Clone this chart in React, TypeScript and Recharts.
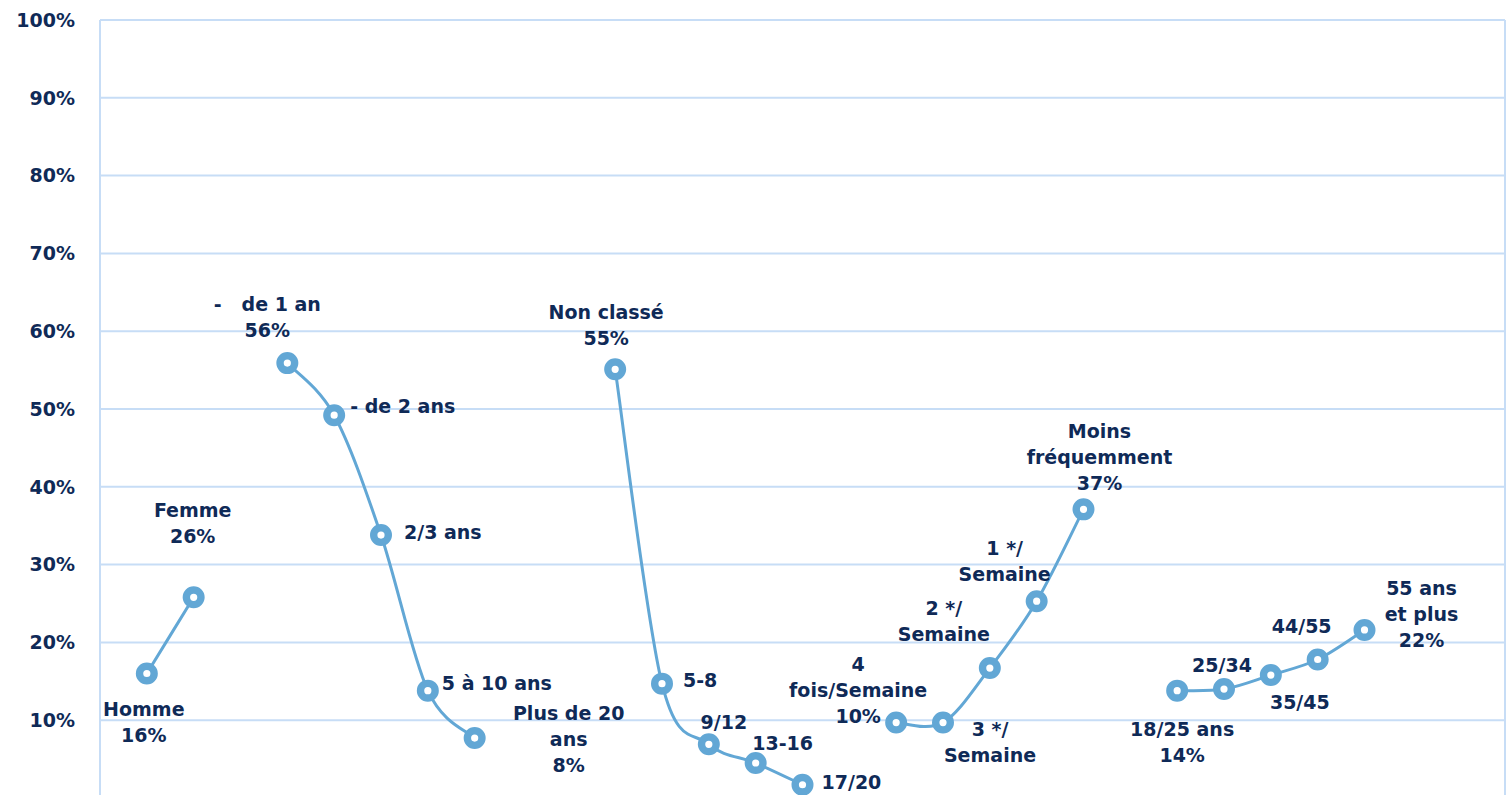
import React from 'react';
import { LineChart, Line, XAxis, YAxis, CartesianGrid, LabelList } from 'recharts';

// Category slots (empty strings are gaps between groups)
const categories: string[] = [
  '', 'Homme', 'Femme', '',
  '- de 1 an', '- de 2 ans', '2/3 ans', '5 à 10 ans', 'Plus de 20 ans', '', '',
  'Non classé', '5-8', '9/12', '13-16', '17/20', '',
  '4 fois/Semaine', '3 */ Semaine', '2 */ Semaine', '1 */ Semaine', 'Moins fréquemment', '',
  '18/25 ans', '25/34', '35/45', '44/55', '55 ans et plus', '', '', '',
];

const values: (number | null)[] = [
  null, 16.0, 25.8, null,
  55.9, 49.2, 33.8, 13.8, 7.7, null, null,
  55.1, 14.7, 6.9, 4.5, 1.7, null,
  9.7, 9.7, 16.7, 25.3, 37.1, null,
  13.8, 14.0, 15.8, 17.8, 21.6, null, null, null,
];

const labelTexts: string[] = [
  '', 'Homme\n16%', 'Femme\n26%', '',
  '-\u00A0\u00A0\u00A0de 1 an\n56%', '- de 2 ans', '2/3 ans', '5 à 10 ans', 'Plus de 20\nans\n8%', '', '',
  'Non classé\n55%', '5-8', '9/12', '13-16', '17/20', '',
  '4\nfois/Semaine\n10%', '3 */\nSemaine', '2 */\nSemaine', '1 */\nSemaine', 'Moins\nfréquemment\n37%', '',
  '18/25 ans\n14%', '25/34', '35/45', '44/55', '55 ans\net plus\n22%', '', '', '',
];

const yTicks: number[] = [10, 20, 30, 40, 50, 60, 70, 80, 90, 100];
const xTicks: number[] = [0, 5, 10, 15, 20, 25, 30];

// label placement relative to its point: [dx, dy of first line centre, anchor]
const labelPlacement: [number, number, string][] = [
  [0, 0, 'middle'], [-3, 35, 'middle'], [-1, -87, 'middle'], [0, 0, 'middle'],
  [-20, -59, 'middle'], [16, -9, 'start'], [23, -3, 'start'], [14, -8, 'start'], [94, -25, 'middle'], [0, 0, 'middle'], [0, 0, 'middle'],
  [-9, -57, 'middle'], [21, -4, 'start'], [15, -22, 'middle'], [27, -20, 'middle'], [19, -3, 'start'], [0, 0, 'middle'],
  [-38, -59, 'middle'], [47, 6, 'middle'], [-46, -60, 'middle'], [-32, -53, 'middle'], [16, -78, 'middle'], [0, 0, 'middle'],
  [5, 38, 'middle'], [-2, -24, 'middle'], [29, 27, 'middle'], [-16, -34, 'middle'], [57, -42, 'middle'], [0, 0, 'middle'], [0, 0, 'middle'], [0, 0, 'middle'],
];

const data = categories.map((c, i) => ({ x: i, name: c, value: values[i], label: labelTexts[i] }));

const NAVY = '#0f2a57';
const BLUE = '#62a7d5';
const GRID = '#c7ddf6';
const FONT = '"DejaVu Sans", sans-serif';

// Catmull-Rom style smoothing (like spreadsheet "smoothed line")
const smoothCurve = (context: any) => {
  let pts: [number, number][] = [];
  return {
    areaStart() {},
    areaEnd() {},
    lineStart() { pts = []; },
    lineEnd() {
      if (!pts.length) return;
      context.moveTo(pts[0][0], pts[0][1]);
      for (let i = 0; i < pts.length - 1; i++) {
        const p0 = pts[i - 1] || pts[i];
        const p1 = pts[i];
        const p2 = pts[i + 1];
        const p3 = pts[i + 2] || pts[i + 1];
        const c1x = p1[0] + (p2[0] - p0[0]) / 6;
        const c1y = p1[1] + (p2[1] - p0[1]) / 6;
        const c2x = p2[0] - (p3[0] - p1[0]) / 6;
        const c2y = p2[1] - (p3[1] - p1[1]) / 6;
        context.bezierCurveTo(c1x, c1y, c2x, c2y, p2[0], p2[1]);
      }
    },
    point(x: number, y: number) { pts.push([+x, +y]); },
  };
};

const renderLabel = (props: any) => {
  const { x, y, index, value } = props;
  if (value == null || value === '') return null;
  const [dx, dy, anchor] = labelPlacement[index];
  const lines = String(value).split('\n');
  return (
    <text
      key={`lbl-${index}`}
      x={x + dx}
      y={y + dy}
      textAnchor={anchor as any}
      fill={NAVY}
      fontFamily={FONT}
      fontWeight={700}
      fontSize={19}
    >
      {lines.map((l, k) => (
        <tspan key={k} x={x + dx} y={y + dy + k * 26} dominantBaseline="central">{l}</tspan>
      ))}
    </text>
  );
};

const renderDot = (props: any) => {
  const { cx, cy, index, value } = props;
  if (value == null || cx == null || cy == null) return <g key={`d-${index}`} />;
  return <circle key={`d-${index}`} cx={cx} cy={cy} r={7.3} fill="#ffffff" stroke={BLUE} strokeWidth={7.4} />;
};

export default function App() {
  return (
    <div style={{ position: 'fixed', left: 0, top: 0, width: 1510, height: 795, overflow: 'hidden', background: '#fff' }}>
      <LineChart width={1510} height={810} data={data} margin={{ top: 20, right: 5, left: 0, bottom: 12 }}>
        <CartesianGrid stroke={GRID} strokeWidth={2} />
        <XAxis
          dataKey="x"
          type="number"
          domain={[0, 30]}
          ticks={xTicks}
          tick={false}
          axisLine={false}
          tickLine={false}
          height={0}
        />
        <YAxis
          type="number"
          domain={[0, 100]}
          ticks={yTicks}
          width={100}
          axisLine={false}
          tickLine={false}
          tickSize={0}
          tickMargin={25}
          tickFormatter={(v: number) => `${v}%`}
          tick={{ fill: NAVY, fontFamily: FONT, fontWeight: 700, fontSize: 19 }}
        />
        <Line
          dataKey="value"
          type={smoothCurve as any}
          stroke={BLUE}
          strokeWidth={3}
          dot={renderDot}
          activeDot={false}
          connectNulls={false}
          isAnimationActive={false}
        >
          <LabelList dataKey="label" content={renderLabel} />
        </Line>
      </LineChart>
    </div>
  );
}
